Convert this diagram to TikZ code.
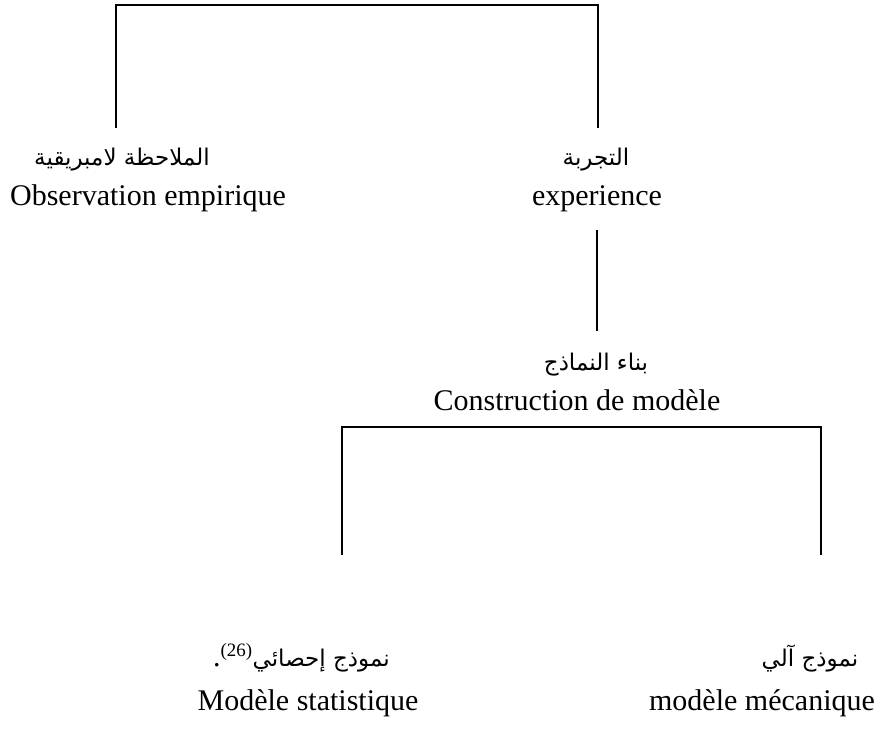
\documentclass[tikz,border=0pt]{standalone}
\usepackage{fontspec}
\setmainfont{Liberation Serif}
\newfontfamily\arabicfont[Script=Arabic]{DejaVu Sans}
\TeXXeTstate=1
\begin{document}
\begin{tikzpicture}[x=1pt,y=1pt,
  fr/.style={font=\fontsize{30}{32}\selectfont, inner sep=0pt, anchor=base},
  ar/.style={font=\arabicfont\fontsize{23}{26}\selectfont, inner sep=0pt, anchor=base},
  link/.style={line width=2.2pt}]
\useasboundingbox (0,0) rectangle (882,728);
% row 1
\node[ar] (obsA) at (122,562) {\beginR الملاحظة لامبريقية\endR};
\node[fr] (obsF) at (148,522) {Observation empirique};
\node[ar] (expA) at (596,562) {\beginR التجربة\endR};
\node[fr] (expF) at (597,522) {experience};
% row 2
\node[ar] (modA) at (596,357) {\beginR بناء النماذج\endR};
\node[fr] (modF) at (577,317) {Construction de modèle};
% row 3
\node[ar, anchor=base east] (statA) at (390,62) {\beginR نموذج إحصائي\beginL{\rmfamily\fontsize{27}{28}\selectfont\textsuperscript{(26)}}\endL{\rmfamily\fontsize{30}{32}\selectfont.}\endR};
\node[fr] (statF) at (308,18) {Modèle statistique};
\node[ar] (mecA) at (810,62) {\beginR نموذج آلي\endR};
\node[fr] (mecF) at (762,18) {modèle mécanique};
% top bracket
\coordinate (t1) at (116,600);
\coordinate (t2) at (598,600);
\coordinate (top) at (0,723);
\draw[link] (t1) -- (t1 |- top) -- (t2 |- top) -- (t2);
% middle line
\coordinate (m1) at (597,498);
\coordinate (m2) at (597,397);
\draw[link] (m1) -- (m2);
% lower bracket
\coordinate (b1) at (342,173);
\coordinate (b2) at (821,173);
\coordinate (bt) at (0,301);
\draw[link] (b1) -- (b1 |- bt) -- (b2 |- bt) -- (b2);
\end{tikzpicture}
\end{document}
